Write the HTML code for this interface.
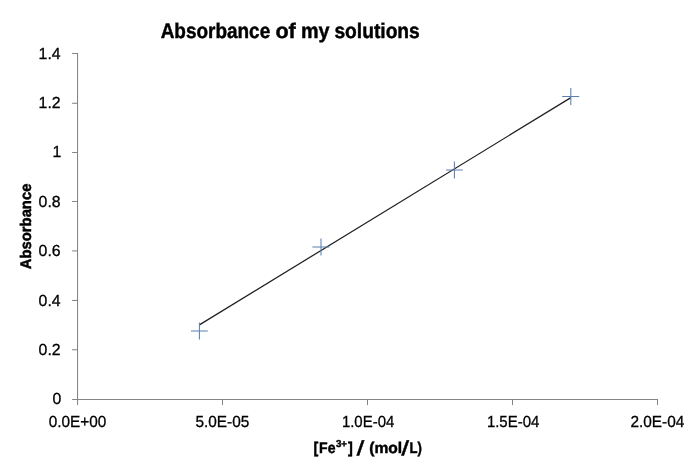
<!DOCTYPE html>
<html lang="en">
<head>
<meta charset="utf-8">
<title>Absorbance of my solutions</title>
<style>
  html, body { margin: 0; padding: 0; background: #ffffff; }
  body { width: 694px; height: 468px; overflow: hidden; }
  svg { display: block; will-change: transform; filter: blur(0.4px); }
  text { font-family: "Liberation Sans", sans-serif; fill: #000; text-rendering: geometricPrecision; }
  .tick { font-size: 16px; stroke: #000; stroke-width: 0.3px; }
  .bold { font-weight: bold; stroke: #000; stroke-width: 0.45px; }
</style>
</head>
<body>
<svg width="694" height="468" viewBox="0 0 694 468">
  <rect x="0" y="0" width="694" height="468" fill="#ffffff"/>

  <!-- chart title -->
  <g class="bold" font-size="21.2">
    <text x="160.7" y="37.7" textLength="109.5" lengthAdjust="spacingAndGlyphs">Absorbance</text>
    <text x="275.4" y="37.7" textLength="20.4" lengthAdjust="spacingAndGlyphs">of</text>
    <text x="300.9" y="37.7" textLength="28.6" lengthAdjust="spacingAndGlyphs">my</text>
    <text x="334.4" y="37.7" textLength="85.4" lengthAdjust="spacingAndGlyphs">solutions</text>
  </g>

  <!-- axes -->
  <g stroke="#848484" stroke-width="1.05" fill="none">
    <line x1="77.55" y1="53" x2="77.55" y2="405"/>
    <line x1="72.1" y1="399.4" x2="658" y2="399.4"/>
    <!-- y ticks -->
    <line x1="72.1" y1="53.5" x2="78" y2="53.5"/>
    <line x1="72.1" y1="103.25" x2="78" y2="103.25"/>
    <line x1="72.1" y1="152.5" x2="78" y2="152.5"/>
    <line x1="72.1" y1="201.5" x2="78" y2="201.5"/>
    <line x1="72.1" y1="250.9" x2="78" y2="250.9"/>
    <line x1="72.1" y1="300.45" x2="78" y2="300.45"/>
    <line x1="72.1" y1="349.75" x2="78" y2="349.75"/>
    <!-- x ticks -->
    <line x1="222.5" y1="399" x2="222.5" y2="405.1"/>
    <line x1="367.5" y1="399" x2="367.5" y2="405.1"/>
    <line x1="512.5" y1="399" x2="512.5" y2="405.1"/>
    <line x1="657.5" y1="399" x2="657.5" y2="405.1"/>
  </g>

  <!-- y tick labels -->
  <g class="tick" text-anchor="end">
    <text x="60.6" y="58.5" textLength="22" lengthAdjust="spacingAndGlyphs">1.4</text>
    <text x="60.6" y="107.9" textLength="22" lengthAdjust="spacingAndGlyphs">1.2</text>
    <text x="61.2" y="157.3" textLength="8.8" lengthAdjust="spacingAndGlyphs">1</text>
    <text x="60.6" y="206.7" textLength="22" lengthAdjust="spacingAndGlyphs">0.8</text>
    <text x="60.6" y="256.1" textLength="22" lengthAdjust="spacingAndGlyphs">0.6</text>
    <text x="60.6" y="305.5" textLength="22" lengthAdjust="spacingAndGlyphs">0.4</text>
    <text x="60.6" y="354.9" textLength="22" lengthAdjust="spacingAndGlyphs">0.2</text>
    <text x="61.4" y="404.3" textLength="8.8" lengthAdjust="spacingAndGlyphs">0</text>
  </g>

  <!-- x tick labels -->
  <g class="tick" text-anchor="middle">
    <text x="77.5" y="426.7" textLength="57.5" lengthAdjust="spacingAndGlyphs">0.0E+00</text>
    <text x="222.4" y="426.7" textLength="53.8" lengthAdjust="spacingAndGlyphs">5.0E-05</text>
    <text x="368.1" y="426.7" textLength="52.4" lengthAdjust="spacingAndGlyphs">1.0E-04</text>
    <text x="513.1" y="426.7" textLength="52.4" lengthAdjust="spacingAndGlyphs">1.5E-04</text>
    <text x="657.4" y="426.7" textLength="53.8" lengthAdjust="spacingAndGlyphs">2.0E-04</text>
  </g>

  <!-- axis titles -->
  <text class="bold" font-size="15.4" transform="translate(30.8 269.2) rotate(-90)" textLength="85.6" lengthAdjust="spacingAndGlyphs">Absorbance</text>

  <g class="bold" font-size="15.4">
    <text x="313.4" y="452.5" textLength="4.8" lengthAdjust="spacingAndGlyphs">[</text>
    <text x="319.1" y="452.5" textLength="16.4" lengthAdjust="spacingAndGlyphs">Fe</text>
    <text x="335.9" y="447.1" font-size="10" textLength="11" lengthAdjust="spacingAndGlyphs">3+</text>
    <text x="348" y="452.5" textLength="4.8" lengthAdjust="spacingAndGlyphs">]</text>
    <text font-size="20.4" transform="translate(356.6 454.7) skewX(-9)" textLength="5.67" lengthAdjust="spacingAndGlyphs">/</text>
    <text x="369.2" y="452.5" textLength="32.9" lengthAdjust="spacingAndGlyphs">(mol</text>
    <text font-size="20.4" transform="translate(401.2 454.7) skewX(-9)" textLength="5.67" lengthAdjust="spacingAndGlyphs">/</text>
    <text x="409.6" y="452.5" textLength="12.4" lengthAdjust="spacingAndGlyphs">L)</text>
  </g>

  <!-- trend line -->
  <line x1="199.4" y1="324.9" x2="570.9" y2="97.6" stroke="#202020" stroke-width="1.25"/>

  <!-- data markers -->
  <g stroke="#5a80b0" stroke-width="1.05" fill="none">
    <path d="M191 330.9H207.8M199.4 322.5V339.4"/>
    <path d="M312.4 246.9H329.3M321 238.4V255.4"/>
    <path d="M446 170H462.8M454.4 161.5V178.5"/>
    <path d="M562.2 96.5H579.2M570.8 88V104.9"/>
  </g>
</svg>
</body>
</html>
